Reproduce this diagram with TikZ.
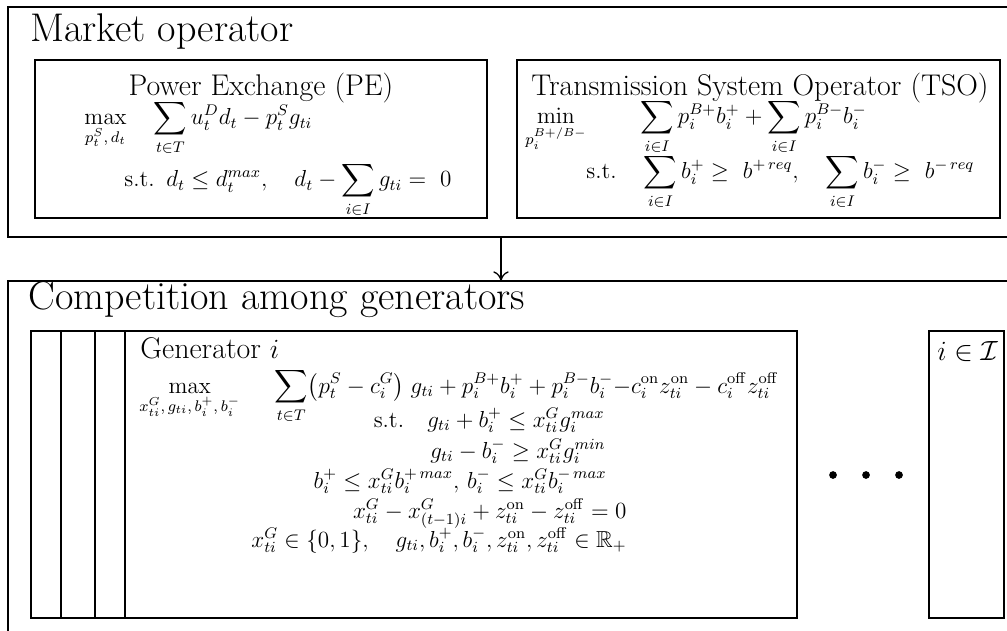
\documentclass[tikz,border=0pt,12pt]{standalone}
\usepackage{amsmath,amssymb}
\usetikzlibrary{arrows.meta}
\tikzset{
  outerbox/.style={line width=1pt},
  innerbox/.style={line width=0.7pt},
  stackbox/.style={line width=0.6pt, fill=white},
  bigttl/.style={font=\LARGE, inner sep=0pt},
  midttl/.style={font=\fontsize{15.5}{18}\selectfont, inner sep=0pt},
  eqn/.style={inner sep=0pt},
  flow/.style={line width=0.7pt, -{Computer Modern Rightarrow[length=5pt,width=8pt]}},
  bigdot/.style={circle, fill=black, inner sep=0pt, minimum size=4pt},
}

\begin{document}
\begin{tikzpicture}[x=0.0182cm, y=-0.0182cm]
  \path[use as bounding box] (0,0) rectangle (1007,631);
  \clip (0,0) rectangle (1007,631);

  % market operator (upper level)
  \draw[outerbox] (8,7) rectangle (1030,237);
  \node[bigttl, anchor=base west] (mo) at (30,42) {Market operator};

  % power exchange
  \draw[innerbox] (35,60) rectangle (487,218);
  \node[midttl, anchor=base] (pe) at (261,96) {Power Exchange (PE)};
  \node[eqn, anchor=base west] (pe1) at (84,125)
    {$\displaystyle\max_{p_t^S,\,d_t}\quad\sum_{t\in T} u_t^D d_t - p_t^S g_{ti}$};
  \node[eqn, anchor=base west] (pe2) at (124,187)
    {$\displaystyle\text{s.t.}\enspace d_t \leq d_t^{max},\quad d_t-\sum_{i\in I} g_{ti} =\ 0$};

  % transmission system operator
  \draw[innerbox] (517,60) rectangle (1000,218);
  \node[midttl, anchor=base] (tso) at (760,96) {Transmission System Operator (TSO)};
  \node[eqn, anchor=base west] (tso1) at (525,124)
    {$\displaystyle\min_{p_i^{B+/B-}}\hspace{26pt}\sum_{i\in I} p_i^{B+}b_i^+ + \sum_{i\in I} p_i^{B-}b_i^-$};
  \node[eqn, anchor=base west] (tso2) at (586,179)
    {$\displaystyle\text{s.t.}\quad\sum_{i\in I} b_i^+ \geq\ b^{+\,req},\quad \sum_{i\in I} b_i^- \geq\ b^{-\,req}$};

  % market clearing -> generators
  \coordinate (mo-out) at (501,237);
  \coordinate (cg-in) at (501,281);
  \draw[flow] (mo-out) -- (cg-in);

  % competition among generators (lower level)
  \draw[outerbox] (8,281) rectangle (1030,660);
  \node[bigttl, anchor=base west] (cg) at (28,309) {Competition among generators};
  \foreach \xl in {31,61,95}
    \draw[stackbox] (\xl,331) rectangle ++(672,287);
  \draw[stackbox] (125,331) rectangle (797,618);
  \node[midttl, anchor=base west] (gen) at (140,358) {Generator $i$};
  \node[eqn, anchor=base west] (g0) at (139,393)
    {$\displaystyle\max_{x_{ti}^G,\,g_{ti},\,b_i^+,\,b_i^-}\quad\ \sum_{t\in T}\bigl(p_t^S-c_i^G\bigr)\;g_{ti}+p_i^{B+}b_i^+ + p_i^{B-}b_i^-{-}c_i^{\mathrm{on}}z_{ti}^{\mathrm{on}} - c_i^{\mathrm{off}}z_{ti}^{\mathrm{off}}$};
  \node[eqn, anchor=base east] (g1) at (605,427)
    {$\text{s.t.}\quad g_{ti}+b_i^+ \leq x_{ti}^G g_i^{max}$};
  \node[eqn, anchor=base east] (g2) at (606,458)
    {$g_{ti}-b_i^- \geq x_{ti}^G g_i^{min}$};
  \node[eqn, anchor=base east] (g3) at (607,488)
    {$b_i^+ \leq x_{ti}^G b_i^{+\,max},\, b_i^- \leq x_{ti}^G b_i^{-\,max}$};
  \node[eqn, anchor=base east] (g4) at (627,518)
    {$x_{ti}^G - x_{(t-1)i}^G + z_{ti}^{\mathrm{on}} - z_{ti}^{\mathrm{off}} = 0$};
  \node[eqn, anchor=base east] (g5) at (627,547)
    {$x_{ti}^G\in\{0,1\},\quad g_{ti},b_i^+,b_i^-,z_{ti}^{\mathrm{on}},z_{ti}^{\mathrm{off}}\in\mathbb{R}_+$};

  % further generators
  \foreach \xd in {833,866,899}
    \node[bigdot] (dot\xd) at (\xd,475) {};
  \draw[innerbox] (929,331) rectangle (1004,618);
  \node[midttl, anchor=base west] (set) at (937,360) {$i\in\mathcal{I}$};
\end{tikzpicture}
\end{document}
